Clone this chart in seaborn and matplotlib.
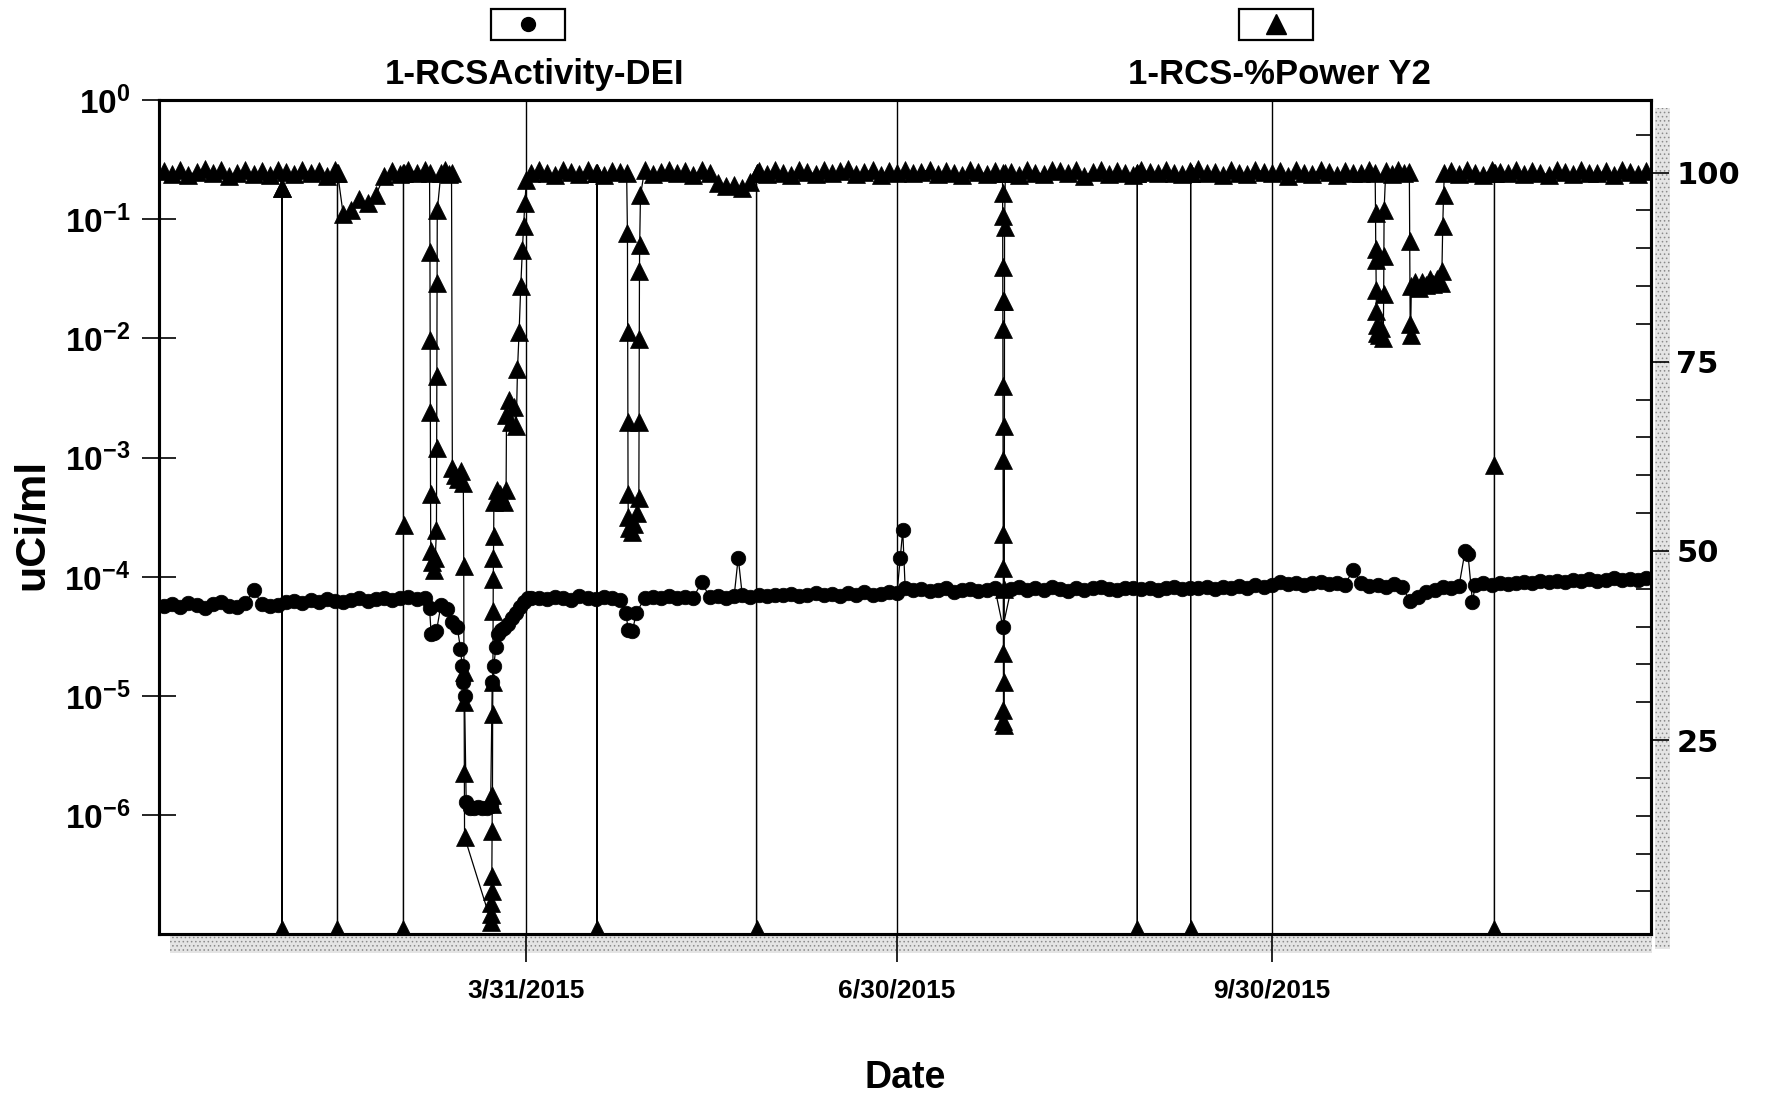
import pandas as pd
import seaborn as sns
import matplotlib.pyplot as plt
from matplotlib.patches import Rectangle
from matplotlib.lines import Line2D
from matplotlib.ticker import FixedLocator, NullLocator

# Valores: una muestra cada 2 dias desde 1/1/2015
start = pd.Timestamp('2015-01-01')
step_days = 2

# % potencia (eje derecho); None = tramo descrito por eventos
power_base = [
    100.2, 99.8, 100.4, 99.7, 100.1, 100.5, 99.9, 100.3, 99.6, 100.0, 100.4, 99.8, 100.2, 99.7, 100.3,
    100.1, 99.8, 100.4, 99.9, 100.2, 99.6, 100.3,
    94.5, 95.0, 96.5, 96.0, 97.0, 99.5,
    100.2, 99.8, 100.4, 100.0, 100.3,
    None, None, None, None, None, None, None, None, None, None, None, None,
    99.9, 100.3, 100.0, 99.7, 100.4, 100.1, 99.8, 100.3, 100.0, 99.7, 100.2, 100.1,
    None, None,
    100.3, 99.8, 100.1, 100.4, 99.9, 100.2, 99.7, 100.3, 100.0,
    98.6, 98.2, 98.4, 98.0, 98.8,
    100.2, 99.8, 100.3, 100.0, 99.7, 100.4, 100.1, 99.8, 100.3, 99.9, 100.2, 100.5, 99.8, 100.1, 100.3, 99.7, 100.2, 100.0,
    100.3, 99.9, 100.1, 100.4, 99.8, 100.2, 100.0, 99.7, 100.3, 100.1, 99.8, 100.2,
    None,
    100.1, 99.7, 100.3, 100.0, 99.8, 100.4, 100.2, 99.9, 100.3, 99.6, 100.1, 100.4, 99.8, 100.2, 100.0,
    99.7, 100.3, 100.1, 99.9, 100.4, 100.0, 99.8, 100.2, 100.5, 99.9, 100.1, 99.7, 100.3, 100.0, 99.8,
    100.4, 100.1, 99.9, 100.2, 99.6, 100.3, 100.0, 99.8, 100.4, 100.1, 99.7, 100.2, 100.0, 99.9, 100.3,
    None, None, None, None, None, None, None, None, None,
    100.2, 99.8, 100.3, 100.0, 99.7, 100.4, 100.1, 99.9, 100.3, 99.8, 100.2, 100.0, 99.7,
    100.4, 100.1, 99.8, 100.3, 100.0, 99.9, 100.2, 99.7, 100.3, 100.1, 99.8, 100.2,
]
power_evt_day = [
    28.99, 29.00, 29.01, 42.59, 42.60, 42.61, 58.79, 58.80, 58.81, 58.82,
    65.20, 65.30, 65.35, 65.40, 65.45, 65.50, 65.80, 66.20, 66.60, 66.90, 66.95, 67.00, 67.05, 67.10,
    68.00, 69.00, 70.00, 70.60, 70.80, 71.50, 72.20, 72.90, 73.50, 73.60, 73.65, 73.70, 73.75, 73.80,
    80.30, 80.35, 80.40, 80.45, 80.50, 80.55, 80.60, 80.65, 80.70, 80.75, 80.80, 80.85, 80.90, 80.95,
    81.00, 81.80, 82.60, 83.40, 84.00, 84.10, 84.70, 85.30, 85.90, 86.50, 86.80, 87.20, 87.60, 88.00,
    88.30, 88.60, 89.00,
    106.29, 106.30, 106.31,
    113.60, 113.80, 113.85, 113.90, 113.95, 114.00, 114.30, 114.90, 115.50, 116.20, 116.60, 116.65,
    116.70, 116.75, 116.80, 117.00,
    145.49, 145.50, 145.51,
    205.90, 205.92, 205.94, 205.96, 205.98, 206.00, 206.02, 206.04, 206.06, 206.08, 206.10, 206.12,
    206.14, 206.30, 206.32, 206.34, 206.36, 206.38, 206.40, 206.60,
    238.99, 239.00, 239.01, 252.09, 252.10, 252.11,
    297.40, 297.50, 297.55, 297.60, 297.65, 297.70, 297.75, 297.80, 298.40, 298.90, 299.40, 299.50,
    299.55, 299.60, 300.00, 301.50, 303.00, 304.50, 305.80, 305.90, 306.00, 306.10, 306.30, 307.20,
    308.10, 309.00, 309.90, 310.80, 311.70, 312.60, 313.50, 313.80, 314.00, 314.20, 314.40,
    326.69, 326.70, 326.71, 326.72,
]
power_evt_pct = [
    98.0, 0.0, 98.0, 100.0, 0.0, 100.0, 100.0, 0.0, 53.4, 100.0,
    100.0, 89.5, 77.9, 68.4, 57.5, 50.0, 48.5, 47.5, 49.0, 52.7, 63.6, 73.1, 85.4, 95.0,
    100.0, 100.3, 99.8, 100.0, 61.0, 60.0, 59.5, 60.5, 59.0, 48.0, 34.0, 30.0, 20.7, 12.2,
    1.0, 2.0, 3.5, 5.0, 7.0, 13.0, 16.5, 17.7, 28.5, 32.7, 42.0, 46.3, 49.0, 52.0,
    56.5, 58.0, 57.5, 56.5, 58.0, 68.0, 70.0, 67.0, 69.0, 66.5, 74.0, 79.0, 85.0, 89.8,
    93.0, 96.0, 99.0,
    100.0, 0.0, 100.0,
    100.0, 92.0, 79.0, 67.0, 57.5, 54.5, 53.0, 52.5, 53.5, 55.0, 57.0, 67.0,
    78.0, 87.0, 90.5, 97.0,
    100.0, 0.0, 100.0,
    100.0, 97.3, 94.3, 87.5, 83.0, 79.3, 71.8, 62.0, 52.3, 47.8, 36.5, 29.0,
    27.5, 27.0, 32.7, 45.0, 66.5, 83.0, 92.8, 100.0,
    100.0, 0.0, 100.0, 100.0, 0.0, 100.0,
    100.0, 94.6, 89.9, 88.5, 84.5, 81.7, 79.9, 78.8, 78.5, 79.5, 78.2, 84.0,
    89.0, 95.0, 100.2, 99.8, 100.3, 100.0, 100.1, 91.0, 80.0, 78.5, 85.0, 85.6,
    84.8, 85.5, 85.2, 85.9, 85.3, 86.0, 85.4, 87.0, 93.0, 97.0, 100.0,
    100.0, 0.0, 61.3, 100.0,
]

# Actividad (uCi/ml, en unidades de 1e-5)
activity_base_e5 = [
    5.7, 5.9, 5.6, 6.0, 5.8, 5.5, 5.9, 6.1, 5.7, 5.6, 6.0, 7.8, 5.9, 5.7, 5.8,
    6.1, 6.3, 6.0, 6.4, 6.2, 6.5, 6.3, 6.1, 6.4, 6.6, 6.3, 6.5, 6.7, 6.4, 6.6, 6.8, 6.5, 6.7,
    None, None, None, None, None, None, None, None, None, None, None, None,
    6.6, 6.7, 6.5, 6.8, 6.6, 6.4, 6.9, 6.7, 6.5, 6.8, 6.6, 6.4,
    3.6, 5.0,
    6.6, 6.8, 6.7, 6.9, 6.6, 6.8, 6.7, 9.0, 6.8, 6.9, 6.7, 6.9, 7.0, 6.8, 7.1, 6.9, 7.0,
    7.0, 7.2, 6.9, 7.1, 7.3, 7.0, 7.2, 6.9, 7.3, 7.1, 7.4, 7.0, 7.2, 7.5, 7.3,
    8.0, 7.7, 7.9, 7.6, 7.8, 8.0, 7.5, 7.7, 7.9, 7.6, 7.8, 8.1,
    3.8,
    7.9, 8.2, 7.7, 8.0, 7.8, 8.3, 7.9, 7.6, 8.1, 7.8, 8.0, 8.2, 7.9, 7.7, 8.1, 8.0,
    7.9, 8.1, 7.8, 8.0, 8.2, 7.9, 8.1, 8.0, 8.3, 7.9, 8.2, 8.0, 8.4, 8.1, 8.6, 8.3, 8.5,
    9.0, 8.7, 8.9, 8.5, 8.8, 9.1, 8.7, 8.9, 8.6, 11.5, 8.8, 8.4,
    8.6, 8.3, 8.7, 8.2, 6.3, 6.8, 7.4, 7.8, 8.2, 8.0, 8.4, None, 8.5, 8.8, 8.6, 8.9, 8.7,
    8.8, 9.1, 8.9, 9.2, 9.0, 9.3, 9.1, 9.4, 9.2, 9.6, 9.3, 9.5, 9.7, 9.4, 9.6, 9.5, 9.7,
]
activity_evt_day = [
    65.20, 65.60, 66.20, 66.90, 68.00, 69.40, 70.80, 72.00, 72.80, 73.20, 73.50, 73.80,
    74.20, 75.20, 76.20, 77.20, 78.20, 79.20, 80.20, 80.60, 81.00, 81.50, 82.00, 82.70,
    83.60, 84.50, 85.50, 86.50, 87.50, 88.50, 89.30,
    113.40, 115.00, 141.00, 180.80, 181.40, 319.50, 320.20, 321.30,
]
activity_evt_e5 = [
    5.5, 3.3, 3.4, 3.5, 5.8, 5.4, 4.2, 3.8, 2.5, 1.8, 1.3, 1.0,
    0.13, 0.115, 0.115, 0.118, 0.115, 0.115, 0.12, 1.3, 1.8, 2.6, 3.3, 3.6,
    3.7, 4.0, 4.5, 5.0, 5.6, 6.2, 6.6,
    5.0, 3.5, 14.5, 14.5, 24.5, 16.5, 15.5, 6.2,
]

series_names = ['1-RCSActivity-DEI', '1-RCS-%Power Y2']
xtick_dates = ['2015-03-31', '2015-06-30', '2015-09-30']
xtick_labels = ['3/31/2015', '6/30/2015', '9/30/2015']
log_ticks = [1e0, 1e-1, 1e-2, 1e-3, 1e-4, 1e-5, 1e-6]
log_labels = [r'$10^{0}$', r'$10^{-1}$', r'$10^{-2}$', r'$10^{-3}$',
              r'$10^{-4}$', r'$10^{-5}$', r'$10^{-6}$']
pct_ticks = [25, 50, 75, 100]
pct_minor = [5, 10, 15, 20, 30, 35, 40, 45, 55, 60, 65, 70, 80, 85, 90, 95, 105]


def build(base, evt_day, evt_val, scale=1.0):
    rows = [(i * step_days, v) for i, v in enumerate(base) if v is not None]
    rows += list(zip(evt_day, evt_val))
    df = pd.DataFrame(rows, columns=['day', 'value']).sort_values('day', kind='stable')
    df['value'] = df['value'] * scale
    df['date'] = start + pd.to_timedelta(df['day'], unit='D')
    return df


act_df = build(activity_base_e5, activity_evt_day, activity_evt_e5, 1e-5)
pow_df = build(power_base, power_evt_day, power_evt_pct)

sns.set_theme(style='white')
plt.rcParams['font.family'] = ['Liberation Sans', 'DejaVu Sans']
plt.rcParams['font.weight'] = 'bold'
plt.rcParams['mathtext.fontset'] = 'custom'
plt.rcParams['mathtext.rm'] = 'Liberation Sans:bold'
plt.rcParams['mathtext.default'] = 'rm'
plt.rcParams['hatch.linewidth'] = 0.6

fig = plt.figure(figsize=(17.74, 11.05), dpi=100)
ax = fig.add_axes([0.0897, 0.1543, 0.8411, 0.7552])
ax2 = ax.twinx()

sns.lineplot(data=act_df, x='date', y='value', ax=ax, estimator=None, sort=False,
             color='black', linewidth=0.9, marker='o', markersize=10.5,
             markeredgecolor='black', markeredgewidth=0.5)
sns.lineplot(data=pow_df, x='date', y='value', ax=ax2, estimator=None, sort=False,
             color='black', linewidth=0.9, marker='^', markersize=13.5,
             markeredgecolor='black', markeredgewidth=0.5)

ax.set_yscale('log')
ax.set_ylim(1e-7, 1)
ax2.set_ylim(-0.7, 109.6)
ax.set_xlim(start - pd.Timedelta(days=1.2), start + pd.Timedelta(days=365.2))

ax.set_xlabel('')
ax.set_ylabel('')
ax2.set_xlabel('')
ax2.set_ylabel('')

# eje izquierdo (log)
ax.yaxis.set_major_locator(FixedLocator(log_ticks))
ax.set_yticklabels(log_labels)
ax.yaxis.set_minor_locator(NullLocator())
ax.tick_params(axis='y', which='major', direction='inout', length=24, width=1.2,
               pad=9, labelsize=24, colors='black', left=True)

# eje derecho (%)
ax2.yaxis.set_major_locator(FixedLocator(pct_ticks))
ax2.yaxis.set_minor_locator(FixedLocator(pct_minor))
ax2.tick_params(axis='y', which='major', direction='out', length=13, width=1.2,
                pad=5, labelsize=22, colors='black', right=True)
ax2.tick_params(axis='y', which='minor', direction='in', length=11, width=1.2,
                colors='black', right=True)
for lbl in ax2.get_yticklabels():
    lbl.set_family('DejaVu Sans')
    lbl.set_weight('bold')

# eje x
ax.set_xticks([pd.Timestamp(d) for d in xtick_dates])
ax.set_xticklabels(xtick_labels)
ax.xaxis.set_minor_locator(NullLocator())
ax.tick_params(axis='x', direction='out', length=20, width=1.2, pad=12,
               labelsize=19, colors='black', bottom=True)
for lbl in ax.get_xticklabels():
    lbl.set_weight('bold')
ax.xaxis.grid(True, color='black', linewidth=1.0)
ax.yaxis.grid(False)
ax2.grid(False)

for a in (ax, ax2):
    for side, sp in a.spines.items():
        sp.set_visible(True)
        sp.set_color('black')
        sp.set_linewidth(2.2)

# franjas grises del escaneado
fig.add_artist(Rectangle((0.096, 0.138), 0.835, 0.015, transform=fig.transFigure,
                         facecolor='#e4e4e4', edgecolor='#8a8a8a', hatch='....',
                         linewidth=0, zorder=0))
fig.add_artist(Rectangle((0.9327, 0.141), 0.0085, 0.761, transform=fig.transFigure,
                         facecolor='#e4e4e4', edgecolor='#8a8a8a', hatch='....',
                         linewidth=0, zorder=0))

# leyenda superior
for x0, mk, ms, name, xt in [(0.2769, 'o', 10, series_names[0], 0.3013),
                             (0.6987, '^', 14, series_names[1], 0.7212)]:
    fig.add_artist(Rectangle((x0, 0.964), 0.0417, 0.028, transform=fig.transFigure,
                             facecolor='white', edgecolor='black', linewidth=1.6))
    fig.add_artist(Line2D([x0 + 0.0208], [0.978], transform=fig.transFigure,
                          marker=mk, markersize=ms, color='black', linestyle='none'))
    fig.text(xt, 0.933, name, ha='center', va='center', fontsize=25,
             weight='bold', color='black')

fig.text(0.018, 0.525, 'uCi/ml', rotation=90, ha='center', va='center',
         fontsize=31, weight='bold', color='black')
fig.text(0.51, 0.024, 'Date', ha='center', va='center', fontsize=27,
         weight='bold', color='black')

fig.savefig('out.png', dpi=100, facecolor='white')
